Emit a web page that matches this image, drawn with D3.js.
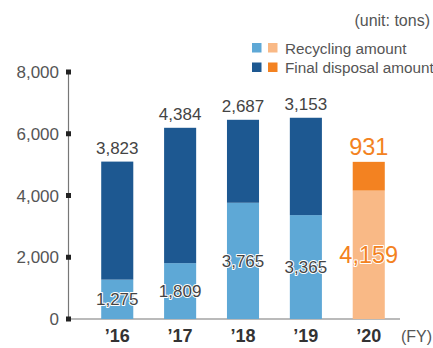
<!DOCTYPE html>
<html>
<head>
<meta charset="utf-8">
<script src="https://cdn.jsdelivr.net/npm/d3@7"></script>
<style>
  html, body { margin: 0; padding: 0; background: #fff; }
  svg { display: block; font-family: "Liberation Sans", Arial, sans-serif; }
</style>
</head>
<body>
<svg id="chart" width="433" height="348"></svg>
<script>
// Waste amounts by fiscal year (tons)
const years = ["’16", "’17", "’18", "’19", "’20"];
const recycling = [1275, 1809, 3765, 3365, 4159];
const finalDisposal = [3823, 4384, 2687, 3153, 931];
const yTicks = [0, 2000, 4000, 6000, 8000];
const highlightYear = "’20";

const colors = {
  recycling: "#5ea8d6",
  disposal: "#1d5891",
  recyclingHi: "#f9b986",
  disposalHi: "#f38221"
};

const svg = d3.select("#chart");
const fmt = d3.format(",");

const x = d3.scaleBand().domain(years).range([85.5, 400.5]).paddingInner(0.49).paddingOuter(0.25);
const y = d3.scaleLinear().domain([0, 8000]).range([319, 72]);

const rows = years.map((yr, i) => ({
  year: yr, rec: recycling[i], disp: finalDisposal[i], hi: yr === highlightYear
}));

// Axes
svg.append("line").attr("x1", 68.5).attr("x2", 68.5).attr("y1", y(8000)).attr("y2", y(0))
  .attr("stroke", "#777").attr("stroke-width", 1.2);
svg.append("line").attr("x1", 68.5).attr("x2", 400).attr("y1", y(0)).attr("y2", y(0))
  .attr("stroke", "#777").attr("stroke-width", 1.2);

const yAxis = svg.append("g");
yAxis.selectAll("rect").data(yTicks).join("rect")
  .attr("x", 66).attr("y", d => y(d) - 2.5).attr("width", 5).attr("height", 5).attr("fill", "#222");
yAxis.selectAll("text").data(yTicks).join("text")
  .attr("x", 59).attr("y", d => y(d)).attr("dy", "0.36em").attr("text-anchor", "end")
  .attr("font-size", 17).attr("fill", "#555").text(d => fmt(d));

// Bars
const bars = svg.append("g");
bars.selectAll("rect.rec").data(rows).join("rect").attr("class", "rec")
  .attr("x", d => x(d.year)).attr("width", x.bandwidth())
  .attr("y", d => y(d.rec)).attr("height", d => y(0) - y(d.rec))
  .attr("fill", d => d.hi ? colors.recyclingHi : colors.recycling);
bars.selectAll("rect.disp").data(rows).join("rect").attr("class", "disp")
  .attr("x", d => x(d.year)).attr("width", x.bandwidth())
  .attr("y", d => y(d.rec + d.disp)).attr("height", d => y(d.rec) - y(d.rec + d.disp))
  .attr("fill", d => d.hi ? colors.disposalHi : colors.disposal);

// Value labels: final disposal above each bar
svg.append("g").selectAll("text").data(rows).join("text")
  .attr("x", d => x(d.year) + x.bandwidth() / 2)
  .attr("y", d => y(d.rec + d.disp) - (d.hi ? 7 : 8))
  .attr("text-anchor", "middle")
  .attr("font-size", d => d.hi ? 23.5 : 17)
  .attr("fill", d => d.hi ? colors.disposalHi : "#444")
  .text(d => fmt(d.disp));

// Value labels: recycling centred in its segment
svg.append("g").selectAll("text").data(rows).join("text")
  .attr("x", d => x(d.year) + x.bandwidth() / 2)
  .attr("y", d => (y(0) + y(d.rec)) / 2)
  .attr("dy", "0.36em")
  .attr("text-anchor", "middle")
  .attr("font-size", d => d.hi ? 23.5 : 17)
  .attr("fill", d => d.hi ? colors.disposalHi : "#444")
  .attr("stroke", "#fff").attr("stroke-width", 2).attr("paint-order", "stroke")
  .attr("stroke-linejoin", "round")
  .text(d => fmt(d.rec));

// Category labels
svg.append("g").selectAll("text").data(years).join("text")
  .attr("x", d => x(d) + x.bandwidth() / 2).attr("y", 341.5)
  .attr("text-anchor", "middle").attr("font-size", 18).attr("font-weight", "bold")
  .attr("fill", "#333").text(d => d);
svg.append("text").attr("x", 432).attr("y", 341.5).attr("text-anchor", "end")
  .attr("font-size", 16).attr("fill", "#555").text("(FY)");

// Unit note
svg.append("text").attr("x", 430).attr("y", 26).attr("text-anchor", "end")
  .attr("font-size", 16).attr("fill", "#555").text("(unit: tons)");

// Legend
const legend = [
  { label: "Recycling amount", c1: colors.recycling, c2: colors.recyclingHi, y: 43 },
  { label: "Final disposal amount", c1: colors.disposal, c2: colors.disposalHi, y: 62.5 }
];
const lg = svg.append("g").selectAll("g").data(legend).join("g");
lg.append("rect").attr("x", 252).attr("y", d => d.y).attr("width", 9.5).attr("height", 9.5).attr("fill", d => d.c1);
lg.append("rect").attr("x", 268).attr("y", d => d.y).attr("width", 9.5).attr("height", 9.5).attr("fill", d => d.c2);
lg.append("text").attr("x", 285).attr("y", d => d.y + 5).attr("dy", "0.36em")
  .attr("font-size", 15.3).attr("fill", "#555").text(d => d.label);
</script>
</body>
</html>
